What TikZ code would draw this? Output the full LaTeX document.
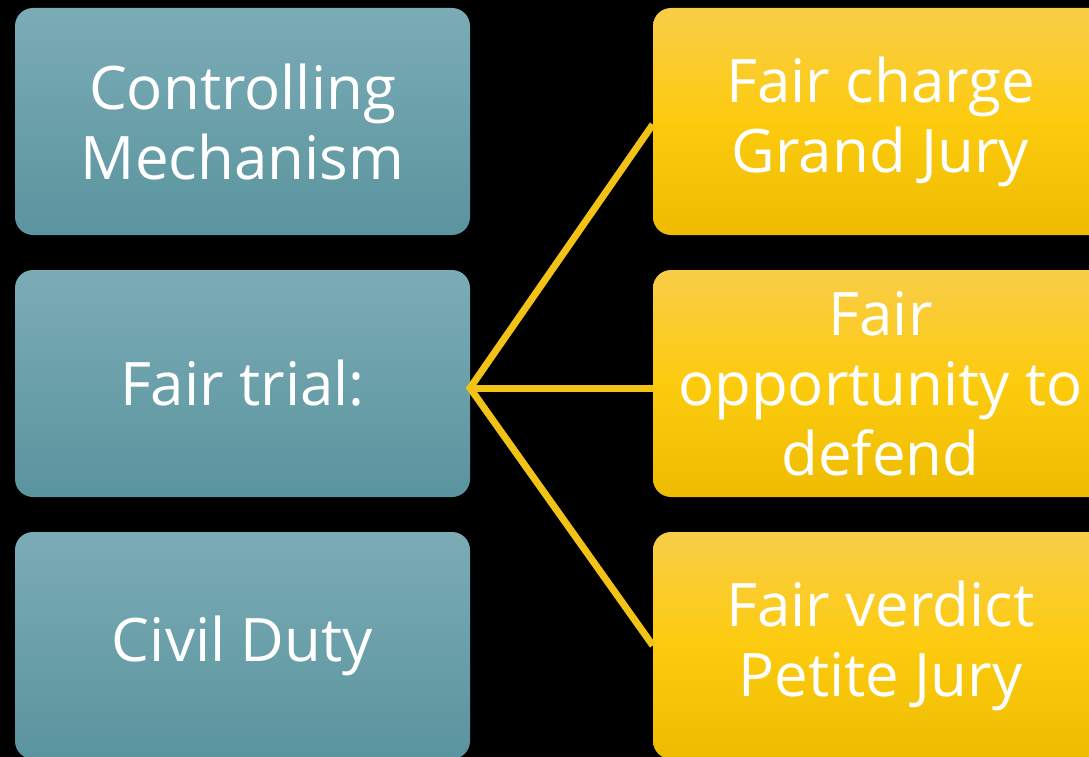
\documentclass[tikz,border=0pt]{standalone}
\usepackage{fontspec}
\setmainfont{Open Sans}
\definecolor{tealtop}{HTML}{7BACB6}
\definecolor{tealbot}{HTML}{5A949E}
\definecolor{goldtop}{HTML}{F8CD48}
\definecolor{goldmid}{HTML}{FDCB0E}
\definecolor{goldbot}{HTML}{EDBB00}
\definecolor{linkgold}{HTML}{F2C316}
\begin{document}
\begin{tikzpicture}[x=1pt,y=-1pt,
  card/.style={rounded corners=18pt, minimum width=455pt, minimum height=227pt,
    inner sep=0pt, text=white, align=center,
    font=\fontsize{60}{70}\selectfont},
  tealcard/.style={card, top color=tealtop, bottom color=tealbot},
  goldcard/.style={card, top color=goldtop, bottom color=goldbot, middle color=goldmid},
  link/.style={draw=linkgold, line width=7pt}]
  % canvas
  \fill[black] (0,0) rectangle (1089,757);
  \useasboundingbox (0,0) rectangle (1089,757);

  % left column
  \node[tealcard] (l1) at (242.5,121.5) {Controlling\\Mechanism};
  \node[tealcard] (l2) at (242.5,383.5) {Fair trial:};
  \node[tealcard] (l3) at (242.5,645.5) {Civil Duty};

  % right column
  \node[goldcard] (r1) at (880.5,121.5) {Fair charge\\Grand Jury};
  \node[goldcard] (r2) at (880.5,383.5) {Fair\\opportunity to\\defend};
  \node[goldcard] (r3) at (880.5,645.5) {Fair verdict\\Petite Jury};

  % fan of connectors from the middle card
  \coordinate (hub) at (470,388);
  \draw[link, miter limit=10] ([yshift=-3pt]r1.west) -- (hub) -- (r3.west);
  \draw[link] (hub) -- (hub -| r2.west);
\end{tikzpicture}
\end{document}
